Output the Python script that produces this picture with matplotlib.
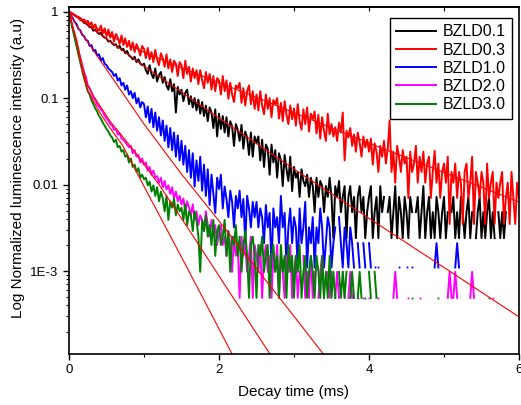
import numpy as np
import matplotlib
matplotlib.use('Agg')
import matplotlib.pyplot as plt
from matplotlib.ticker import LogLocator, NullFormatter, MultipleLocator

plt.rcParams['font.family'] = ['Liberation Sans', 'DejaVu Sans']

# sampling times of the decay traces (ms), one point every 0.025 ms
time_ms = np.round(np.arange(241) * 0.025, 3)

labels = ['BZLD0.1', 'BZLD0.3', 'BZLD1.0', 'BZLD2.0', 'BZLD3.0']
colors = ['#000000', '#FF0000', '#0000FF', '#FF00FF', '#008000']

# normalized intensities (0 = no counts, not drawn)
bzld01 = [
    1.0, 0.97, 0.93, 0.91, 0.87, 0.86, 0.80, 0.79, 0.74, 0.73,
    0.70, 0.66, 0.66, 0.60, 0.62, 0.58, 0.55, 0.57, 0.52, 0.50,
    0.49, 0.45, 0.46, 0.43, 0.41, 0.42, 0.38, 0.40, 0.36, 0.37,
    0.33, 0.35, 0.31, 0.30, 0.28, 0.30, 0.26, 0.28, 0.25, 0.24,
    0.25, 0.21, 0.19, 0.24, 0.19, 0.17, 0.22, 0.155, 0.185, 0.20,
    0.15, 0.175, 0.14, 0.125, 0.165, 0.12, 0.145, 0.068, 0.135, 0.11,
    0.125, 0.092, 0.115, 0.125, 0.085, 0.105, 0.078, 0.10, 0.072, 0.096,
    0.066, 0.09, 0.062, 0.082, 0.054, 0.078, 0.068, 0.045, 0.074, 0.036,
    0.066, 0.044, 0.062, 0.04, 0.06, 0.036, 0.054, 0.047, 0.028, 0.05,
    0.043, 0.032, 0.049, 0.026, 0.041, 0.035, 0.022, 0.04, 0.021, 0.036,
    0.03, 0.036, 0.019, 0.033, 0.016, 0.029, 0.026, 0.013, 0.029, 0.018,
    0.025, 0.012, 0.023, 0.019, 0.0096, 0.022, 0.015, 0.011, 0.021, 0.0084,
    0.016, 0.012, 0.014, 0.0072, 0.015, 0.011, 0.0096, 0.013, 0.0072, 0.012,
    0.0096, 0.0048, 0.012, 0.0072, 0.011, 0.0096, 0.0048, 0.0096, 0.0072, 0.012,
    0.0072, 0.0024, 0.0096, 0.0072, 0.011, 0.0048, 0.0072, 0.0096, 0.0024, 0.0072,
    0.0096, 0.0048, 0.0072, 0.0024, 0.0072, 0.0096, 0.0048, 0.0072, 0.0024, 0.0048,
    0.0072, 0.0096, 0.0024, 0.0048, 0.0072, 0.0024, 0.0096, 0.0048, 0.0072, 0,
    0.0048, 0.0072, 0.0024, 0.0048, 0.0096, 0.0024, 0.0072, 0.0048, 0.0024, 0.0072,
    0.0048, 0.0024, 0.0072, 0.0048, 0, 0.0048, 0.0072, 0.0024, 0.0048, 0.0096,
    0.0024, 0.0048, 0.0072, 0.0024, 0.0048, 0.0024, 0.0072, 0.0048, 0.0024, 0.0048,
    0.0072, 0.0024, 0.0048, 0, 0.0048, 0.0072, 0.0024, 0.0048, 0.0024, 0.0072,
    0.0048, 0.0024, 0.0048, 0.0072, 0.0024, 0.0048, 0, 0.0024, 0.0048, 0.0072,
    0.0024, 0.0048, 0.0024, 0.0048, 0.0072, 0.0024, 0.0048, 0.0024, 0, 0.0048,
    0.0024, 0.0048, 0.0024, 0.0048, 0, 0, 0, 0, 0, 0,
    0]

bzld03 = [
    1.0, 0.97, 0.95, 0.91, 0.88, 0.87, 0.84, 0.80, 0.81, 0.76,
    0.78, 0.70, 0.75, 0.64, 0.71, 0.62, 0.60, 0.69, 0.56, 0.64,
    0.52, 0.62, 0.50, 0.58, 0.45, 0.55, 0.50, 0.42, 0.53, 0.41,
    0.49, 0.39, 0.46, 0.36, 0.44, 0.34, 0.42, 0.37, 0.31, 0.40,
    0.37, 0.29, 0.38, 0.28, 0.34, 0.26, 0.36, 0.28, 0.24, 0.33,
    0.29, 0.23, 0.32, 0.22, 0.28, 0.20, 0.27, 0.25, 0.18, 0.26,
    0.24, 0.17, 0.27, 0.19, 0.23, 0.155, 0.22, 0.17, 0.21, 0.145,
    0.21, 0.16, 0.13, 0.20, 0.15, 0.19, 0.125, 0.18, 0.12, 0.17,
    0.16, 0.11, 0.18, 0.12, 0.16, 0.098, 0.15, 0.11, 0.09, 0.14,
    0.13, 0.15, 0.088, 0.13, 0.082, 0.12, 0.14, 0.085, 0.12, 0.075,
    0.11, 0.072, 0.12, 0.082, 0.065, 0.11, 0.075, 0.10, 0.06, 0.095,
    0.085, 0.10, 0.058, 0.088, 0.054, 0.092, 0.064, 0.05, 0.082, 0.057,
    0.076, 0.048, 0.085, 0.054, 0.043, 0.074, 0.05, 0.078, 0.041, 0.066,
    0.057, 0.07, 0.039, 0.064, 0.034, 0.06, 0.042, 0.032, 0.066, 0.038,
    0.05, 0.036, 0.046, 0.032, 0.052, 0.04, 0.068, 0.019, 0.042, 0.035,
    0.045, 0.028, 0.038, 0.024, 0.04, 0.031, 0.021, 0.036, 0.027, 0.033,
    0.024, 0.034, 0.017, 0.03, 0.024, 0.014, 0.028, 0.021, 0.032, 0.0175,
    0.026, 0.055, 0.014, 0.024, 0.0105, 0.028, 0.021, 0.014, 0.025, 0.0175,
    0.021, 0.007, 0.024, 0.014, 0.0175, 0.028, 0.0105, 0.021, 0.014, 0.024,
    0.0105, 0.0175, 0.021, 0.007, 0.014, 0.0245, 0.0105, 0.0175, 0.007, 0.014,
    0.0175, 0.0105, 0.021, 0.0035, 0.014, 0.0105, 0.0175, 0.007, 0.014, 0.0105,
    0.0035, 0.014, 0.0175, 0.007, 0.0105, 0.021, 0.0035, 0.014, 0.0105, 0.007,
    0.014, 0.0105, 0.0035, 0.0175, 0.007, 0.0105, 0.014, 0.0035, 0.0105, 0.007,
    0.0105, 0.014, 0.0035, 0.007, 0.0105, 0.0035, 0.014, 0.007, 0.0035, 0.0105,
    0.007]

bzld10 = [
    1.0, 0.90, 0.84, 0.76, 0.72, 0.63, 0.61, 0.54, 0.52, 0.47,
    0.46, 0.40, 0.41, 0.35, 0.36, 0.31, 0.32, 0.27, 0.29, 0.25,
    0.24, 0.22, 0.21, 0.20, 0.18, 0.19, 0.16, 0.17, 0.14, 0.15,
    0.125, 0.14, 0.11, 0.12, 0.10, 0.115, 0.087, 0.10, 0.078, 0.09,
    0.085, 0.06, 0.08, 0.052, 0.075, 0.046, 0.068, 0.042, 0.06, 0.037,
    0.055, 0.032, 0.048, 0.027, 0.045, 0.025, 0.04, 0.021, 0.037, 0.019,
    0.032, 0.017, 0.028, 0.014, 0.025, 0.012, 0.023, 0.0095, 0.019, 0.011,
    0.021, 0.0085, 0.017, 0.0074, 0.015, 0.0058, 0.013, 0.0079, 0.0047, 0.012,
    0.0089, 0.013, 0.0053, 0.0095, 0.0068, 0.0042, 0.0085, 0.0063, 0.0032, 0.0074,
    0.0053, 0.0085, 0.0042, 0.0068, 0.0021, 0.0074, 0.0053, 0.0032, 0.0063, 0.0042,
    0.0063, 0.0032, 0.0053, 0.0042, 0.0021, 0.0058, 0.0032, 0.0047, 0.0011, 0.0053,
    0.0032, 0.0042, 0.0021, 0.0074, 0.0032, 0.0047, 0.0011, 0.0032, 0.0053, 0.0021,
    0.0042, 0.0032, 0.0011, 0.0053, 0.0021, 0.0032, 0.0063, 0.0011, 0.0032, 0.0021,
    0.0042, 0.0011, 0.0032, 0.0021, 0.0053, 0.0032, 0.0011, 0.0021, 0.0042, 0.0032,
    0.0011, 0.0021, 0.0032, 0, 0.0042, 0.0021, 0.0011, 0.0032, 0.0021, 0.0011,
    0.0032, 0.0021, 0.0011, 0, 0.0021, 0.0011, 0, 0.0021, 0.0011, 0,
    0.0021, 0.0011, 0, 0.0011, 0, 0.0011, 0, 0, 0, 0,
    0, 0, 0, 0, 0, 0, 0.0011, 0, 0, 0,
    0.0011, 0, 0, 0.0011, 0, 0, 0, 0, 0, 0,
    0, 0, 0, 0, 0, 0.0011, 0.0021, 0.0011, 0, 0,
    0, 0, 0, 0, 0, 0, 0.0011, 0.0021, 0.0011, 0,
    0, 0, 0, 0, 0, 0, 0, 0, 0, 0,
    0, 0, 0, 0, 0, 0, 0, 0, 0, 0,
    0, 0, 0, 0, 0, 0, 0, 0, 0, 0,
    0]

bzld20 = [
    1.0, 0.80, 0.64, 0.52, 0.42, 0.35, 0.29, 0.24, 0.20, 0.175,
    0.14, 0.13, 0.115, 0.10, 0.096, 0.085, 0.08, 0.074, 0.07, 0.063,
    0.058, 0.055, 0.05, 0.048, 0.043, 0.044, 0.038, 0.039, 0.034, 0.033,
    0.031, 0.029, 0.027, 0.028, 0.023, 0.025, 0.021, 0.022, 0.018, 0.02,
    0.017, 0.018, 0.0145, 0.016, 0.013, 0.0145, 0.012, 0.0125, 0.0105, 0.012,
    0.0093, 0.011, 0.0088, 0.0098, 0.0078, 0.0093, 0.0069, 0.0083, 0.0064, 0.0074,
    0.0059, 0.0069, 0.0049, 0.0064, 0.0054, 0.0044, 0.0059, 0.0039, 0.0049, 0.0034,
    0.0044, 0.0039, 0.0029, 0.0049, 0.0034, 0.0025, 0.0039, 0.0029, 0.0034, 0.0020,
    0.0029, 0.0034, 0.0020, 0.0025, 0.0015, 0.0029, 0.0020, 0.00098, 0.0025, 0.0015,
    0.0020, 0.00049, 0.0025, 0.0015, 0.0020, 0.00098, 0.0015, 0.0025, 0.00049, 0.0020,
    0.0015, 0.00098, 0.0020, 0.00049, 0.0015, 0.0020, 0.00098, 0.0015, 0.00049, 0.0015,
    0.00098, 0.0020, 0.00049, 0.0015, 0.00098, 0.00049, 0.0015, 0.00098, 0.0020, 0.00049,
    0.00098, 0.0015, 0.00049, 0.00098, 0, 0.0015, 0.00049, 0.00098, 0.00049, 0.0015,
    0.00049, 0.00098, 0, 0.00049, 0.00098, 0.0015, 0.00049, 0, 0.00098, 0.00049,
    0.00098, 0, 0.00049, 0.00098, 0.00049, 0, 0.00098, 0.00049, 0, 0.00049,
    0.00098, 0.00049, 0, 0, 0.00049, 0, 0, 0.00049, 0, 0,
    0.00049, 0, 0, 0, 0, 0.00049, 0, 0, 0, 0,
    0, 0, 0, 0.00049, 0.00098, 0.00049, 0, 0, 0, 0,
    0, 0.00049, 0, 0, 0, 0, 0, 0.00049, 0, 0,
    0, 0, 0, 0, 0, 0, 0, 0, 0, 0,
    0, 0, 0.00049, 0.00098, 0.00049, 0.00049, 0.00098, 0.00049, 0, 0,
    0, 0, 0, 0, 0.00049, 0.00098, 0.00049, 0, 0, 0,
    0, 0, 0, 0, 0, 0, 0.00049, 0, 0, 0,
    0, 0, 0, 0, 0, 0, 0, 0, 0, 0,
    0]

bzld30 = [
    1.0, 0.78, 0.62, 0.50, 0.40, 0.32, 0.26, 0.21, 0.17, 0.145,
    0.12, 0.11, 0.094, 0.085, 0.076, 0.07, 0.062, 0.058, 0.052, 0.048,
    0.044, 0.041, 0.037, 0.035, 0.031, 0.033, 0.027, 0.028, 0.024, 0.025,
    0.021, 0.022, 0.018, 0.020, 0.016, 0.017, 0.014, 0.0155, 0.012, 0.013,
    0.0115, 0.012, 0.0098, 0.0108, 0.0083, 0.0098, 0.0074, 0.0093, 0.0064, 0.0083,
    0.0069, 0.0049, 0.0074, 0.0039, 0.0064, 0.0054, 0.0069, 0.0044, 0.0059, 0.0049,
    0.0054, 0.0039, 0.0059, 0.0034, 0.0049, 0.0044, 0.0029, 0.0049, 0.0039, 0.0025,
    0.00098, 0.0039, 0.0029, 0.0044, 0.0025, 0.0034, 0.0020, 0.0039, 0.0015, 0.0029,
    0.0034, 0.0020, 0.0025, 0.0039, 0.0015, 0.0029, 0.00098, 0.0025, 0.0020, 0.0034,
    0.0015, 0.0025, 0.00098, 0.0020, 0.0029, 0.0015, 0.00049, 0.0020, 0.0025, 0.0015,
    0.00049, 0.0020, 0.0015, 0.0025, 0.00098, 0.0015, 0.0020, 0.00049, 0.0015, 0.0020,
    0.00098, 0.0015, 0.00049, 0.0020, 0.00098, 0.0015, 0.00049, 0.0020, 0.00098, 0.0015,
    0.00049, 0.0015, 0.00098, 0.0020, 0.00049, 0.00098, 0.0015, 0.00049, 0.00098, 0.0015,
    0.00098, 0.00049, 0.0015, 0.00098, 0.00049, 0.0015, 0.00049, 0.00098, 0.00049, 0.0015,
    0.00049, 0.00098, 0.00049, 0, 0.00098, 0.00049, 0.00098, 0.00049, 0.00098, 0,
    0.00049, 0.00098, 0.00049, 0, 0.00049, 0.00098, 0.00049, 0, 0.00049, 0,
    0.00098, 0.00049, 0, 0.00098, 0.00049, 0, 0, 0, 0, 0,
    0, 0, 0, 0, 0, 0, 0, 0, 0, 0,
    0, 0, 0, 0.00049, 0, 0, 0, 0, 0, 0,
    0, 0, 0, 0, 0, 0, 0, 0.00049, 0, 0,
    0, 0, 0, 0, 0, 0, 0, 0, 0, 0,
    0, 0, 0, 0, 0, 0, 0, 0, 0, 0,
    0, 0, 0, 0, 0.00049, 0, 0, 0, 0, 0,
    0, 0, 0, 0, 0, 0, 0, 0, 0, 0,
    0]

# exponential fits (thin red lines)
fit01_t = [0, 1, 2, 3, 4, 5, 6]
fit01_v = [1.0, 0.234, 0.0589, 0.0151, 0.00407, 0.0011, 0.000295]
fit03_t = [0, 0.5, 1, 1.5, 2, 2.5, 3, 3.63, 4, 5, 6]
fit03_v = [1.0, 0.55, 0.339, 0.224, 0.151, 0.102, 0.0676, 0.0407, 0.0302, 0.0138, 0.0063]
fit10_t = [0, 0.1, 0.24, 0.5, 1.0, 1.5, 2.0, 2.5, 3.0, 3.5]
fit10_v = [1.0, 0.69, 0.457, 0.214, 0.0501, 0.0132, 0.0038, 0.00107, 0.0003, 0.000083]
fit20_t = [0, 0.05, 0.1, 0.17, 0.24, 0.33, 0.42, 0.55, 0.7, 0.84, 1.2, 1.6, 2.1, 2.8]
fit20_v = [1.0, 0.676, 0.479, 0.251, 0.145, 0.105, 0.0794, 0.0537, 0.0372, 0.0263,
           0.01, 0.0030, 0.000646, 0.0000759]
fit30_t = [0, 0.05, 0.1, 0.17, 0.24, 0.33, 0.42, 0.55, 0.71, 1.0, 1.5, 1.9, 2.3]
fit30_v = [1.0, 0.66, 0.457, 0.224, 0.126, 0.0912, 0.0661, 0.0447, 0.0288, 0.00955,
           0.00145, 0.000316, 0.0000676]

series = [bzld01, bzld03, bzld10, bzld20, bzld30]
fits = [(fit01_t, fit01_v), (fit03_t, fit03_v), (fit10_t, fit10_v),
        (fit20_t, fit20_v), (fit30_t, fit30_v)]

fig = plt.figure(figsize=(5.21, 4.05), dpi=100)
ax = fig.add_axes([69 / 521, 1 - 354 / 405, 450 / 521, 346.7 / 405])

for name, vals, col in zip(labels, series, colors):
    y = np.array(vals, dtype=float)
    y[y <= 0] = np.nan  # zero counts are not drawn on the log axis
    ax.plot(time_ms, y, color=col, lw=1.4, label=name)
    # single points between gaps show up as dots
    prev_nan = np.r_[True, np.isnan(y[:-1])]
    next_nan = np.r_[np.isnan(y[1:]), True]
    iso = ~np.isnan(y) & prev_nan & next_nan
    ax.plot(time_ms[iso], y[iso], ls='none', marker='s', ms=1.3, mew=0, color=col)

for ft, fv in fits:
    ax.plot(ft, fv, color='#FF0000', lw=0.8)

ax.set_yscale('log')
ax.set_xlim(0, 6)
ax.set_ylim(1.1e-4, 1.12)

ax.set_yticks([1e-3, 1e-2, 1e-1, 1])
ax.set_yticklabels(['1E-3', '0.01', '0.1', '1'])
ax.yaxis.set_minor_locator(LogLocator(base=10, subs=np.arange(2, 10)))
ax.yaxis.set_minor_formatter(NullFormatter())
ax.xaxis.set_major_locator(MultipleLocator(2))
ax.xaxis.set_minor_locator(MultipleLocator(1))

ax.tick_params(which='both', direction='out', top=False, right=False, labelsize=9.5)
ax.tick_params(which='major', length=4, width=1)
ax.tick_params(which='minor', length=2.5, width=0.8)

top = ax.secondary_xaxis('top')
top.set_xticks([1, 2, 3, 4, 5])
top.tick_params(direction='in', length=3, width=0.8, labeltop=False)
top.spines['top'].set_linewidth(1.2)

for s in ax.spines.values():
    s.set_linewidth(1.2)

ax.set_xlabel('Decay time (ms)', fontsize=11, labelpad=6)
ax.set_ylabel('Log Normalized luminescence intensity (a.u)', fontsize=11)
ax.yaxis.set_label_coords(-0.097, 0.536)

leg = ax.legend(loc='upper right', bbox_to_anchor=(0.984, 0.969), borderaxespad=0,
                fancybox=False, edgecolor='black', framealpha=1, fontsize=11.5,
                handlelength=2.5, handletextpad=0.4, labelspacing=0.2, borderpad=0.4)
leg.get_frame().set_linewidth(1.0)

fig.savefig('out.png', dpi=100)
